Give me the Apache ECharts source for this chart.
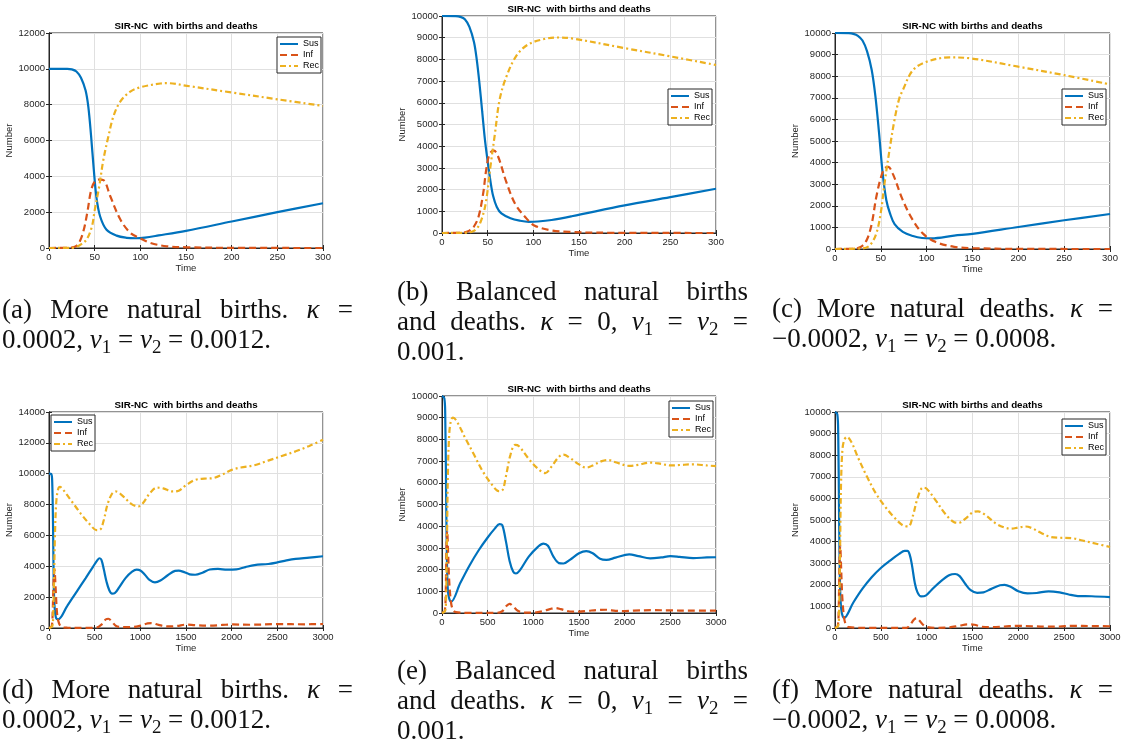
<!DOCTYPE html>
<html lang="en">
<head>
<meta charset="UTF-8">
<title>SIR-NC with births and deaths</title>
<script src="https://cdn.jsdelivr.net/npm/echarts@6/dist/echarts.min.js"></script>
<style>
    body { margin: 0; background: #fff; }
    #main { position: absolute; left: 0; top: 0; width: 1146px; height: 746px; }
    .cap { position: absolute; font-family: "Liberation Serif", serif; font-size: 27px; color: #111; }
    .cap div { height: 30px; line-height: 30px; white-space: nowrap; }
    .cap div.j { text-align: justify; text-align-last: justify; white-space: normal; }
    .cap sub { font-size: 70%; line-height: 0; vertical-align: -0.25em; }
</style>
</head>
<body>
<div id="main"></div>

<div class="cap" style="left:2px;top:294px;width:351px">
    <div class="j">(a) More natural births. <i>κ</i> =</div>
    <div>0.0002, <i>v</i><sub>1</sub> = <i>v</i><sub>2</sub> = 0.0012.</div>
</div>
<div class="cap" style="left:397px;top:276px;width:351px">
    <div class="j">(b) Balanced natural births</div>
    <div class="j">and deaths. <i>κ</i> = 0, <i>v</i><sub>1</sub> = <i>v</i><sub>2</sub> =</div>
    <div>0.001.</div>
</div>
<div class="cap" style="left:772px;top:293px;width:341px">
    <div class="j">(c) More natural deaths. <i>κ</i> =</div>
    <div>−0.0002, <i>v</i><sub>1</sub> = <i>v</i><sub>2</sub> = 0.0008.</div>
</div>
<div class="cap" style="left:2px;top:674px;width:351px">
    <div class="j">(d) More natural births. <i>κ</i> =</div>
    <div>0.0002, <i>v</i><sub>1</sub> = <i>v</i><sub>2</sub> = 0.0012.</div>
</div>
<div class="cap" style="left:397px;top:655px;width:351px">
    <div class="j">(e) Balanced natural births</div>
    <div class="j">and deaths. <i>κ</i> = 0, <i>v</i><sub>1</sub> = <i>v</i><sub>2</sub> =</div>
    <div>0.001.</div>
</div>
<div class="cap" style="left:772px;top:674px;width:341px">
    <div class="j">(f) More natural deaths. <i>κ</i> =</div>
    <div>−0.0002, <i>v</i><sub>1</sub> = <i>v</i><sub>2</sub> = 0.0008.</div>
</div>

<script>
    // [time, number] pairs
    var names = ['Sus', 'Inf', 'Rec'];

    // (a) more births, t = 0..300
    var susA = [[0,10000],[20,10000],[25,9970],[30,9850],[35,9500],[40,8800],[43,7900],[46,6300],[49,4400],[52,2800],[56,1760],[63,1020],[74,690],[85,570],[95,545],[105,580],[120,700],[150,960],[200,1480],[250,2000],[300,2500]];
    var infA = [[0,0],[20,10],[25,30],[30,120],[34,400],[38,1000],[42,2000],[46,3200],[50,3700],[55,3820],[60,3780],[67,2900],[78,1600],[89,850],[100,540],[111,280],[129,95],[150,40],[200,10],[300,0]];
    var recA = [[0,0],[25,10],[30,60],[35,200],[41,460],[47,1200],[50,2100],[55,3440],[59.5,4920],[65,6220],[70.5,7340],[78,8170],[89,8730],[100,8970],[122,9180],[130,9200],[151,9050],[200,8680],[250,8300],[300,7930]];

    // (b) balanced, t = 0..300
    var susB = [[0,10000],[15,9990],[20,9960],[25,9850],[30,9500],[35,8800],[38,8000],[41,6900],[44,5600],[47,4300],[50,3300],[53,2400],[56,1700],[60,1200],[65,900],[75,680],[85,570],[95,515],[105,530],[120,600],[142,770],[200,1270],[250,1650],[300,2040]];
    var infB = [[0,0],[20,10],[25,30],[30,110],[35,300],[40,750],[45,1800],[48,2800],[51,3500],[54,3750],[57,3800],[60,3650],[63,3350],[70,2400],[80,1350],[91,740],[101,350],[120,120],[140,50],[170,15],[300,0]];
    var recB = [[0,0],[25,10],[32,50],[38,200],[43,590],[48,1400],[53,3050],[58,4590],[63,6130],[70,7150],[81,8140],[94,8680],[112,8940],[127,9010],[142,8970],[200,8520],[250,8140],[300,7740]];

    // (c) more deaths, t = 0..300
    var susC = [[0,10000],[15,9990],[20,9960],[25,9870],[30,9650],[35,9150],[40,8300],[44,7100],[48,5400],[52,3500],[56,2260],[60,1650],[65,1150],[74,790],[85,600],[95,510],[105,495],[130,620],[150,700],[200,1020],[250,1330],[300,1620]];
    var infC = [[0,0],[20,10],[25,40],[30,150],[35,450],[40,1150],[45,2400],[50,3300],[54,3720],[58,3800],[63,3490],[74,2260],[85,1330],[96,710],[110,320],[130,100],[150,40],[200,5],[300,0]];
    var recC = [[0,0],[30,30],[38,170],[45,710],[50,1700],[54,3030],[60,4730],[65,6000],[70,6950],[74,7360],[85,8280],[100,8670],[125,8870],[147,8830],[200,8440],[250,8050],[300,7620]];

    // (d) more births, t = 0..3000
    var susD = [[0,10000],[25,9970],[35,9500],[45,6300],[52,2800],[60,1500],[75,690],[100,560],[200,1440],[300,2330],[400,3220],[480,3950],[530,4400],[555,4520],[575,4400],[600,3800],[630,3000],[660,2450],[690,2230],[720,2260],[770,2650],[840,3250],[910,3650],[960,3780],[1000,3730],[1050,3450],[1100,3120],[1160,2960],[1220,3080],[1300,3420],[1380,3700],[1420,3720],[1480,3620],[1540,3480],[1600,3450],[1680,3580],[1760,3790],[1850,3830],[1950,3780],[2050,3800],[2150,3950],[2250,4080],[2400,4150],[2500,4250],[2600,4380],[2700,4480],[2850,4560],[3000,4650]];
    var infD = [[0,0],[30,120],[40,1000],[50,3000],[60,3800],[70,2900],[85,1200],[100,500],[130,100],[200,20],[400,5],[520,30],[580,250],[620,550],[650,600],[690,400],[730,150],[800,60],[900,60],[1000,150],[1080,300],[1120,320],[1200,200],[1300,100],[1400,130],[1500,220],[1600,180],[1750,150],[1900,200],[2000,230],[2200,210],[2500,250],[2800,240],[3000,260]];
    var recD = [[0,0],[35,100],[45,700],[55,3000],[65,6000],[80,8200],[100,9000],[120,9150],[150,9000],[250,8200],[350,7400],[450,6700],[520,6350],[560,6380],[600,7000],[640,8000],[690,8700],[730,8850],[800,8600],[900,8050],[980,7880],[1030,8100],[1100,8700],[1180,9100],[1250,9050],[1350,8850],[1420,8900],[1500,9250],[1600,9600],[1700,9680],[1800,9720],[1900,9950],[2000,10250],[2100,10400],[2250,10550],[2400,10850],[2550,11150],[2700,11450],[2850,11800],[3000,12200]];

    // (e) balanced, t = 0..3000
    var susE = [[0,10000],[25,9900],[35,9200],[45,5500],[55,2200],[65,1000],[80,650],[100,520],[200,1380],[300,2180],[400,2880],[500,3480],[580,3900],[630,4100],[660,4050],[700,3300],[740,2400],[780,1900],[810,1820],[850,1950],[950,2600],[1050,3050],[1110,3200],[1160,3100],[1220,2600],[1280,2300],[1330,2280],[1400,2450],[1500,2750],[1580,2850],[1650,2750],[1730,2500],[1800,2450],[1900,2550],[2050,2700],[2150,2620],[2280,2520],[2400,2560],[2500,2620],[2600,2590],[2750,2530],[2900,2560],[3000,2570]];
    var infE = [[0,0],[30,100],[40,800],[50,3300],[57,3800],[65,3000],[80,1400],[100,450],[120,150],[150,40],[300,5],[600,10],[660,80],[700,300],[740,420],[780,300],[830,100],[900,20],[1000,20],[1100,80],[1180,180],[1240,230],[1300,180],[1400,70],[1500,60],[1600,100],[1700,140],[1800,150],[1900,100],[2000,90],[2100,110],[2300,130],[2500,120],[2700,110],[3000,110]];
    var recE = [[0,0],[35,100],[45,800],[55,3500],[65,6500],[80,8300],[100,8900],[120,9000],[160,8850],[250,8100],[350,7300],[450,6500],[550,5900],[620,5620],[660,5650],[700,6300],[750,7300],[800,7750],[840,7700],[950,7100],[1050,6650],[1130,6450],[1200,6750],[1280,7200],[1330,7300],[1400,7150],[1500,6850],[1580,6700],[1650,6800],[1750,7000],[1820,7050],[1900,6950],[2050,6780],[2150,6830],[2280,6930],[2400,6870],[2500,6800],[2600,6820],[2750,6850],[2900,6800],[3000,6770]];

    // (f) more deaths, t = 0..3000
    var susF = [[0,10000],[25,9900],[35,9000],[45,5000],[55,2000],[70,800],[100,460],[200,1180],[300,1820],[400,2350],[500,2780],[600,3120],[700,3430],[760,3570],[790,3570],[815,3400],[840,2900],[870,2100],[900,1650],[940,1460],[990,1500],[1050,1750],[1150,2150],[1250,2450],[1310,2500],[1360,2400],[1420,2050],[1480,1750],[1550,1630],[1620,1650],[1700,1800],[1800,1980],[1850,2000],[1920,1900],[2000,1700],[2100,1600],[2200,1620],[2330,1700],[2450,1650],[2550,1550],[2650,1480],[2800,1470],[3000,1430]];
    var infF = [[0,0],[30,100],[40,800],[50,3300],[57,3800],[65,3000],[80,1400],[100,450],[120,150],[150,40],[400,5],[780,10],[820,150],[860,380],[890,460],[920,350],[960,150],[1000,50],[1100,10],[1250,30],[1350,100],[1450,170],[1520,150],[1600,60],[1700,40],[1850,70],[2000,100],[2150,80],[2300,60],[2450,70],[2600,100],[2800,90],[3000,80]];
    var recF = [[0,0],[35,100],[45,800],[55,3500],[65,6500],[80,8200],[100,8700],[130,8850],[180,8600],[250,7900],[350,7000],[450,6200],[550,5600],[650,5100],[740,4750],[800,4700],[850,5200],[900,6000],[960,6500],[1000,6450],[1100,5900],[1200,5300],[1300,4900],[1350,4870],[1420,5050],[1500,5350],[1560,5400],[1650,5200],[1750,4850],[1850,4650],[1920,4600],[2000,4650],[2080,4700],[2150,4620],[2250,4400],[2350,4220],[2450,4180],[2600,4150],[2700,4050],[2850,3900],[3000,3750]];

    var panels = [
        {title: 'SIR-NC  with births and deaths', grid: [49, 33, 274, 215], xMax: 300, xStep: 50, yMax: 12000, yStep: 2000, legend: [277, 37], nameGap: 31, data: [susA, infA, recA]},
        {title: 'SIR-NC  with births and deaths', grid: [442, 16, 274, 217], xMax: 300, xStep: 50, yMax: 10000, yStep: 1000, legend: [668, 89], nameGap: 30, data: [susB, infB, recB]},
        {title: 'SIR-NC with births and deaths', grid: [835, 33, 275, 216], xMax: 300, xStep: 50, yMax: 10000, yStep: 1000, legend: [1062, 89], nameGap: 30, data: [susC, infC, recC]},
        {title: 'SIR-NC  with births and deaths', grid: [49, 412, 274, 216], xMax: 3000, xStep: 500, yMax: 14000, yStep: 2000, legend: [51, 415], nameGap: 31, data: [susD, infD, recD]},
        {title: 'SIR-NC  with births and deaths', grid: [442, 396, 274, 217], xMax: 3000, xStep: 500, yMax: 10000, yStep: 1000, legend: [669, 401], nameGap: 30, data: [susE, infE, recE]},
        {title: 'SIR-NC with births and deaths', grid: [835, 412, 275, 216], xMax: 3000, xStep: 500, yMax: 10000, yStep: 1000, legend: [1062, 419], nameGap: 30, data: [susF, infF, recF]}
    ];

    var colors = ['#0072BD', '#D95319', '#EDB120'];
    var dashes = ['solid', [7, 4], [6, 3, 2, 3]];
    var ink = '#262626';
    var sans = '"Liberation Sans", Arial, sans-serif';
    var plain = function (v) { return String(v); };

    var grids = [], xAxes = [], yAxes = [], titles = [], legends = [], series = [];

    panels.forEach(function (p, i) {
        var g = p.grid;
        grids.push({
            left: g[0], top: g[1], width: g[2], height: g[3],
            show: true, borderColor: ink, borderWidth: 1, backgroundColor: '#fff',
            containLabel: false, outerBoundsMode: 'none'
        });
        titles.push({
            text: p.title, left: g[0] + g[2] / 2, top: g[1] - 12, textAlign: 'center', padding: 0,
            textStyle: {fontFamily: sans, fontSize: 9.8, fontWeight: 'bold', color: '#000'}
        });
        legends.push({
            data: names, orient: 'vertical', left: p.legend[0], top: p.legend[1],
            itemWidth: 18, itemHeight: 9, itemGap: 1, padding: [2, 2, 2, 2],
            backgroundColor: '#fff', borderColor: ink, borderWidth: 1, borderRadius: 0,
            selectedMode: false,
            itemStyle: {opacity: 0},
            textStyle: {fontFamily: sans, fontSize: 9, color: '#000', lineHeight: 10}
        });
        // bottom and top x axes
        xAxes.push({
            type: 'value', gridIndex: i, position: 'bottom', min: 0, max: p.xMax, interval: p.xStep,
            name: 'Time', nameLocation: 'middle', nameGap: 15.5,
            nameTextStyle: {fontFamily: sans, fontSize: 9.5, color: ink},
            axisLine: {show: true, lineStyle: {color: ink, width: 1}},
            axisTick: {show: true, inside: true, length: 3, lineStyle: {color: ink}},
            axisLabel: {fontFamily: sans, fontSize: 9.5, color: ink, margin: 4, formatter: plain, showMinLabel: true, showMaxLabel: true},
            splitLine: {show: true, lineStyle: {color: '#e0e0e0', width: 1}}
        });
        xAxes.push({
            type: 'value', gridIndex: i, position: 'top', min: 0, max: p.xMax, interval: p.xStep,
            axisLine: {show: true, lineStyle: {color: ink, width: 1}},
            axisTick: {show: true, inside: true, length: 3, lineStyle: {color: ink}},
            axisLabel: {show: false}, splitLine: {show: false}
        });
        // left and right y axes
        yAxes.push({
            type: 'value', gridIndex: i, position: 'left', min: 0, max: p.yMax, interval: p.yStep,
            name: 'Number', nameLocation: 'middle', nameGap: p.nameGap,
            nameTextStyle: {fontFamily: sans, fontSize: 9.5, color: ink},
            axisLine: {show: true, lineStyle: {color: ink, width: 1}},
            axisTick: {show: true, inside: true, length: 3, lineStyle: {color: ink}},
            axisLabel: {fontFamily: sans, fontSize: 9.5, color: ink, margin: 4, formatter: plain, showMinLabel: true, showMaxLabel: true},
            splitLine: {show: true, lineStyle: {color: '#e0e0e0', width: 1}}
        });
        yAxes.push({
            type: 'value', gridIndex: i, position: 'right', min: 0, max: p.yMax, interval: p.yStep,
            axisLine: {show: true, lineStyle: {color: ink, width: 1}},
            axisTick: {show: true, inside: true, length: 3, lineStyle: {color: ink}},
            axisLabel: {show: false}, splitLine: {show: false}
        });
        p.data.forEach(function (d, k) {
            series.push({
                name: names[k], type: 'line', xAxisIndex: 2 * i, yAxisIndex: 2 * i,
                data: d, symbol: 'none', smooth: 0.35, clip: true, silent: true,
                lineStyle: {color: colors[k], width: 2.2, type: dashes[k], cap: 'butt'},
                itemStyle: {color: colors[k]}
            });
        });
    });

    var myChart = echarts.init(document.getElementById('main'), null, {renderer: 'canvas'});
    option = {
        animation: false,
        backgroundColor: '#fff',
        textStyle: {fontFamily: sans},
        title: titles,
        legend: legends,
        grid: grids,
        xAxis: xAxes,
        yAxis: yAxes,
        series: series
    };
    myChart.setOption(option);
</script>
</body>
</html>
